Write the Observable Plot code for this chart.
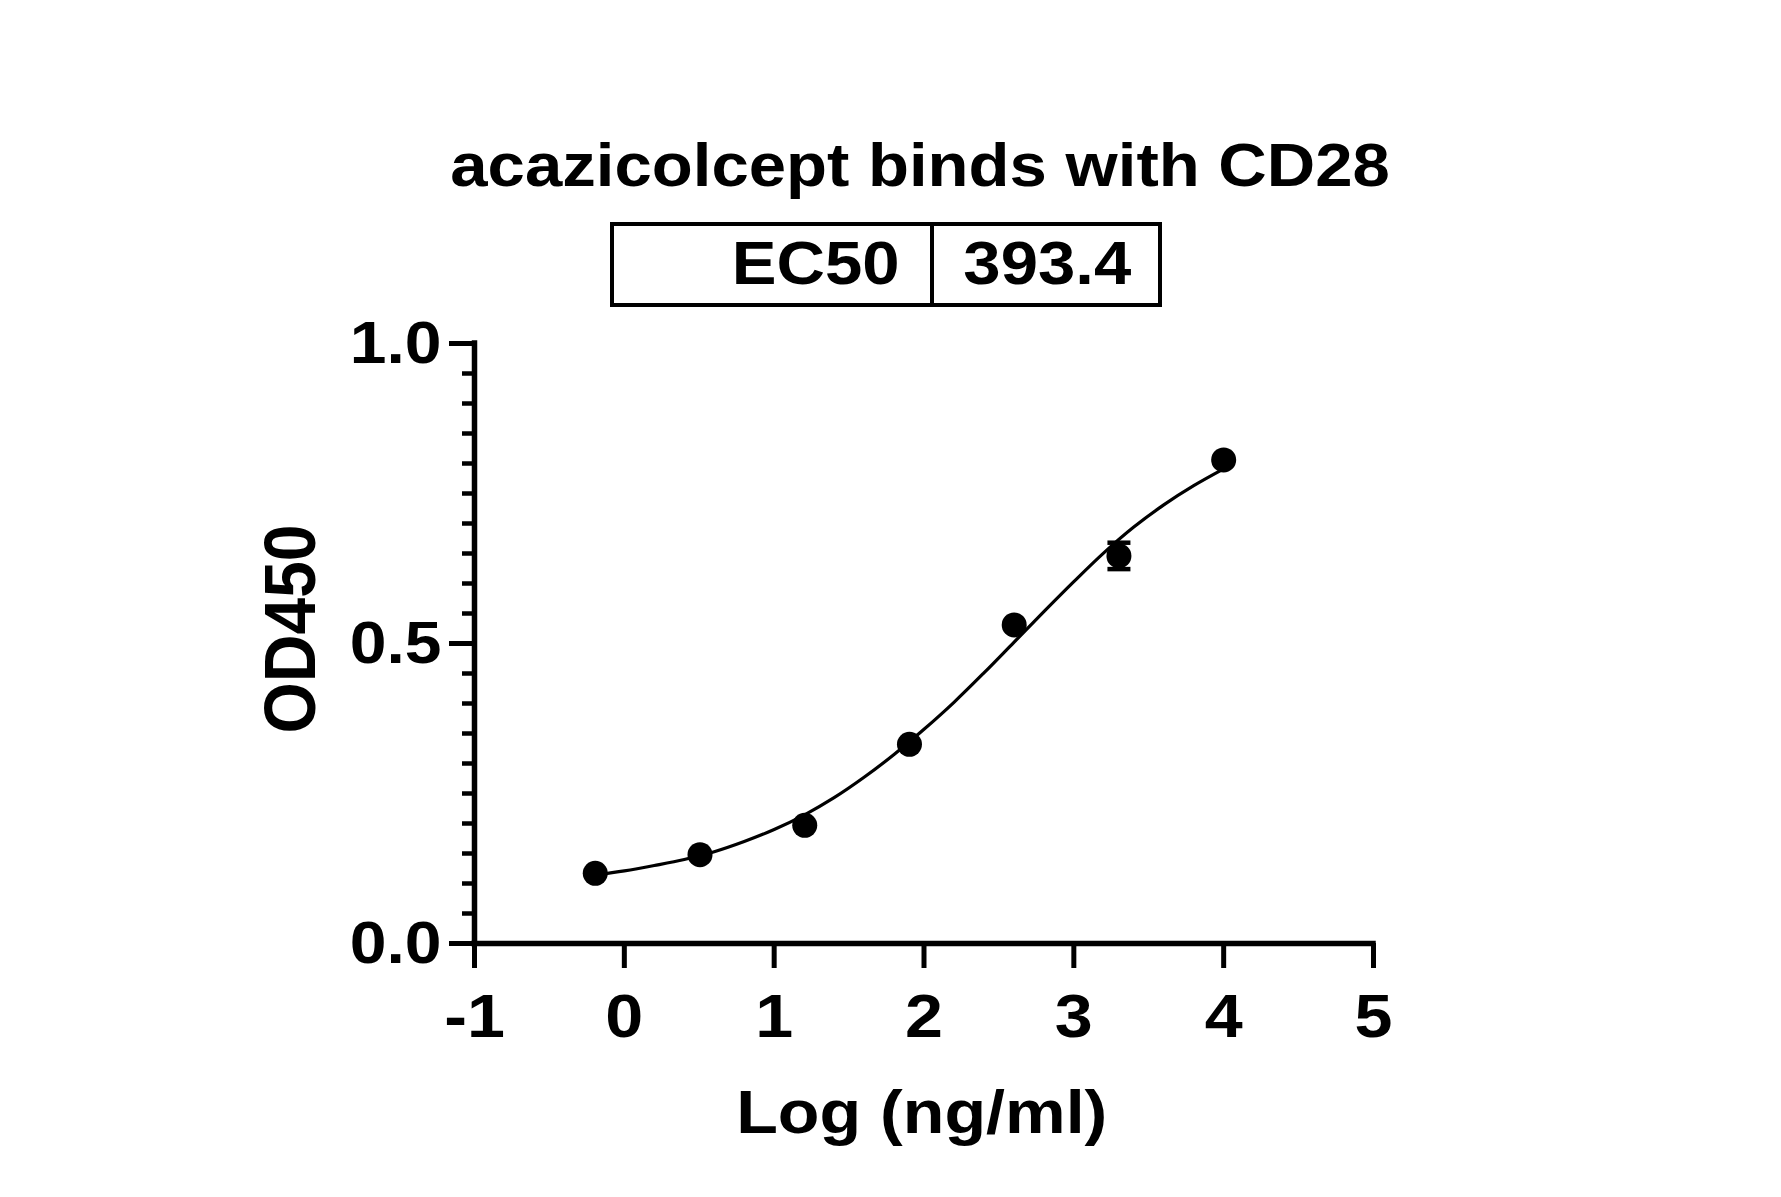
<!DOCTYPE html>
<html>
<head>
<meta charset="utf-8">
<script src="https://cdn.jsdelivr.net/npm/d3@7"></script>
<script src="https://cdn.jsdelivr.net/npm/@observablehq/plot@0.6"></script>
<style>
  body { margin: 0; background: #fff; }
  #wrap { position: relative; width: 1781px; height: 1197px; overflow: hidden; background: #fff;
          font-family: "Liberation Sans", Arial, sans-serif; font-weight: bold; color: #000; }
  #chart { position: absolute; left: 0; top: 0; }
  .lbl { position: absolute; white-space: nowrap; line-height: 1; }
  .lbl span { display: inline-block; }
</style>
</head>
<body>
<div id="wrap"><div id="chart"></div></div>
<script>
// ---- text ----
const title = "acazicolcept binds with CD28";
const ec50Name = "EC50";
const ec50Value = "393.4";
const xLabel = "Log (ng/ml)";
const yLabel = "OD450";

// ---- measured points (log concentration, mean OD450, error) ----
const logConc = [-0.194, 0.505, 1.204, 1.903, 2.602, 3.301, 4.0];
const od450   = [0.117, 0.148, 0.197, 0.332, 0.531, 0.646, 0.806];
const od450Err = [0, 0, 0, 0, 0, 0.022, 0];

// ---- fitted curve ----
const fitLogConc = [-0.194, 0.0, 0.2, 0.4, 0.6, 0.8, 1.0, 1.2, 1.4, 1.6, 1.8, 2.0, 2.2, 2.4, 2.6, 2.8, 3.0, 3.2, 3.4, 3.6, 3.8, 4.0];
const fitOd450   = [0.114, 0.121, 0.130, 0.140, 0.153, 0.170, 0.190, 0.214, 0.243, 0.277, 0.315, 0.357, 0.402, 0.451, 0.502, 0.553, 0.603, 0.651, 0.694, 0.731, 0.763, 0.791];

// ---- ticks ----
const xTicks = [-1, 0, 1, 2, 3, 4, 5];
const yTicks = [0, 0.5, 1.0];
const yMinorTicks = [0.05, 0.1, 0.15, 0.2, 0.25, 0.3, 0.35, 0.4, 0.45, 0.55, 0.6, 0.65, 0.7, 0.75, 0.8, 0.85, 0.9, 0.95];

const stretch = 1.1;
const pts = logConc.map((x, i) => ({x, y: od450[i], e: od450Err[i]}));
const errPts = pts.filter(d => d.e > 0);
const fit = fitLogConc.map((x, i) => ({x, y: fitOd450[i]}));

const capSymbol = {
  draw(ctx, size) {
    const r = Math.sqrt(size / Math.PI);
    ctx.moveTo(-r, 0);
    ctx.lineTo(r, 0);
  }
};

const chart = Plot.plot({
  width: 1781,
  height: 1197,
  marginLeft: 474,
  marginRight: 408,
  marginTop: 343,
  marginBottom: 254,
  style: {fontFamily: '"Liberation Sans", Arial, sans-serif', background: "transparent", color: "#000", overflow: "visible"},
  x: {domain: [-1, 5], label: null},
  y: {domain: [0, 1], label: null},
  marks: [
    Plot.axisY({ticks: yMinorTicks, tickSize: 12, tickFormat: () => "", strokeWidth: 4.5, label: null}),
    Plot.axisY({ticks: yTicks, tickSize: 25, tickPadding: 8, tickFormat: d3.format(".1f"),
                fontSize: 60, fontWeight: "bold", strokeWidth: 5, label: null}),
    Plot.axisX({ticks: xTicks, tickSize: 25, tickPadding: 24, tickFormat: d => String(d),
                fontSize: 62, fontWeight: "bold", strokeWidth: 5, label: null}),
    Plot.ruleX([xTicks[0]], {y1: yTicks[0], y2: yTicks[2], strokeWidth: 5.5, strokeLinecap: "square"}),
    Plot.ruleY([yTicks[0]], {x1: xTicks[0], x2: xTicks[xTicks.length - 1], strokeWidth: 5.5, strokeLinecap: "square"}),
    Plot.line(fit, {x: "x", y: "y", curve: "catmull-rom", stroke: "#000", strokeWidth: 3.2}),
    Plot.ruleX(errPts, {x: "x", y1: d => d.y - d.e, y2: d => d.y + d.e, strokeWidth: 3.5}),
    Plot.dot(errPts, {x: "x", y: d => d.y + d.e, symbol: capSymbol, r: 11.5, stroke: "#000", strokeWidth: 4.5, fill: "none"}),
    Plot.dot(errPts, {x: "x", y: d => d.y - d.e, symbol: capSymbol, r: 11.5, stroke: "#000", strokeWidth: 4.5, fill: "none"}),
    Plot.dot(pts, {x: "x", y: "y", r: 12.5, fill: "#000", stroke: "none"})
  ]
});

// horizontal stretch of tick labels, as in the reference
chart.querySelectorAll("text").forEach(t => {
  const tr = t.getAttribute("transform");
  if (tr) {
    t.setAttribute("transform", tr + ` scale(${stretch},1)`);
  } else {
    const x = parseFloat(t.getAttribute("x")) || 0;
    t.removeAttribute("x");
    t.setAttribute("transform", `translate(${x},0) scale(${stretch},1)`);
  }
});

document.getElementById("chart").appendChild(chart);

const wrap = document.getElementById("wrap");
function label(text, {left, top, width, align, fontSize, origin, transform}) {
  const d = document.createElement("div");
  d.className = "lbl";
  d.style.left = left + "px";
  d.style.top = top + "px";
  if (width != null) d.style.width = width + "px";
  d.style.textAlign = align || "center";
  d.style.fontSize = fontSize + "px";
  if (transform) d.style.transform = transform;
  const s = document.createElement("span");
  s.textContent = text;
  if (!transform) {
    s.style.transform = `scaleX(${stretch})`;
    s.style.transformOrigin = origin || "50% 50%";
  }
  d.appendChild(s);
  wrap.appendChild(d);
  return d;
}
const asc = 0.8465; // baseline offset for line-height 1

// title
label(title, {left: 420, top: 187 - asc * 61, width: 1000, align: "center", fontSize: 61});

// EC50 box
const box = document.createElement("div");
Object.assign(box.style, {position: "absolute", left: "610px", top: "222px", width: "552px", height: "85px",
  border: "4px solid #000", boxSizing: "border-box"});
wrap.appendChild(box);
const divider = document.createElement("div");
Object.assign(divider.style, {position: "absolute", left: "930.25px", top: "222px", width: "3.5px", height: "85px", background: "#000"});
wrap.appendChild(divider);
label(ec50Name, {left: 400, top: 285 - asc * 61, width: 500, align: "right", fontSize: 61, origin: "100% 50%"});
label(ec50Value, {left: 547, top: 285 - asc * 61, width: 1000, align: "center", fontSize: 61});

// axis titles
label(xLabel, {left: 422, top: 1133 - asc * 62, width: 1000, align: "center", fontSize: 62});
label(yLabel, {left: 290, top: 629, fontSize: 66, transform: `translate(-50%,-50%) rotate(-90deg) scaleY(${stretch})`});
</script>
</body>
</html>
